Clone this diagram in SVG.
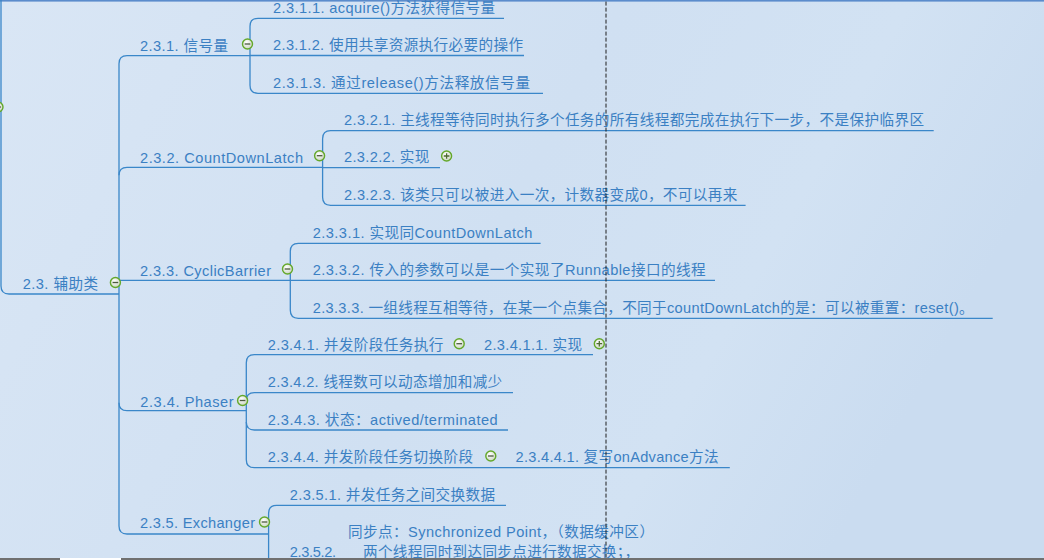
<svg xmlns="http://www.w3.org/2000/svg" width="1044" height="560" viewBox="0 0 1044 560">
<defs>
<linearGradient id="bg" x1="0" y1="0" x2="1" y2="0.3">
<stop offset="0" stop-color="#d9e6f5"/>
<stop offset="0.55" stop-color="#d0e0f2"/>
<stop offset="0.8" stop-color="#d2e2f3"/>
<stop offset="1" stop-color="#cadcf0"/>
</linearGradient>
<radialGradient id="btn" cx="0.4" cy="0.35" r="0.7">
<stop offset="0" stop-color="#ffffff"/>
<stop offset="1" stop-color="#c9d3bf"/>
</radialGradient>
<g id="minus">
<circle r="5" fill="url(#btn)" stroke="#64a82a" stroke-width="1.4"/>
<path d="M-2.8,0 H2.8" stroke="#4d5a40" stroke-width="1.3"/>
</g>
<g id="plus">
<circle r="5" fill="url(#btn)" stroke="#64a82a" stroke-width="1.4"/>
<path d="M-2.8,0 H2.8 M0,-2.8 V2.8" stroke="#4d6a30" stroke-width="1.3"/>
</g>
</defs>
<style>
.t{font-family:"Liberation Sans","Noto Sans CJK SC",sans-serif;font-size:14.6px;fill:#3b80c3;}
.c{fill:none;stroke:#3a87c9;stroke-width:1.3;}
</style>
<rect x="0" y="0" width="1044" height="560" fill="url(#bg)"/>
<rect x="0" y="0" width="1044" height="1.6" fill="#5b8ccc"/>

<g id="connectors">
<path class="c" d="M1,0 V286 Q1,294 9,294 H119"/>
<path class="c" d="M250,55.7 H127 Q119,55.7 119,63.7 V526 Q119,534 127,534 H268.6"/>
<path class="c" d="M119,175.3 Q119,167.3 127,167.3 H322.6"/>
<path class="c" d="M119,280.3 H290.3"/>
<path class="c" d="M119,402.7 Q119,410.7 127,410.7 H246.3"/>
<path class="c" d="M504,18.3 H258 Q250,18.3 250,26.3 V85.3 Q250,93.3 258,93.3 H543"/>
<path class="c" d="M250,55.5 H524"/>
<path class="c" d="M933.7,130.7 H330.6 Q322.6,130.7 322.6,138.7 V197.3 Q322.6,205.3 330.6,205.3 H745.6"/>
<path class="c" d="M322.6,167.6 H440"/>
<path class="c" d="M540.6,243.3 H298.3 Q290.3,243.3 290.3,251.3 V310.3 Q290.3,318.3 298.3,318.3 H992.7"/>
<path class="c" d="M290.3,280.3 H715"/>
<path class="c" d="M593,354.7 H254.3 Q246.3,354.7 246.3,362.7 V459.7 Q246.3,467.7 254.3,467.7 H729.8"/>
<path class="c" d="M246.3,400.7 Q246.3,392.7 254.3,392.7 H513"/>
<path class="c" d="M246.3,422 Q246.3,430 254.3,430 H508"/>
<path class="c" d="M506,505.3 H276.6 Q268.6,505.3 268.6,513.3 V560"/>
</g>

<g id="parent-stub"><use href="#minus" x="-2" y="107"/></g>

<g id="n2_3">
<text class="t" x="22.7" y="289.3" textLength="75.4" lengthAdjust="spacing">2.3. 辅助类</text>
<use href="#minus" x="115.4" y="282.5"/>
</g>

<g id="n2_3_1">
<text class="t" x="140" y="50.5" textLength="88" lengthAdjust="spacing">2.3.1. 信号量</text>
<use href="#minus" x="247.5" y="44"/>
</g>
<g id="n2_3_1_1"><text class="t" x="273" y="12.8" textLength="222" lengthAdjust="spacing">2.3.1.1. acquire()方法获得信号量</text></g>
<g id="n2_3_1_2"><text class="t" x="273" y="49.8" textLength="250" lengthAdjust="spacing">2.3.1.2. 使用共享资源执行必要的操作</text></g>
<g id="n2_3_1_3"><text class="t" x="273" y="87.8" textLength="257" lengthAdjust="spacing">2.3.1.3. 通过release()方法释放信号量</text></g>

<g id="n2_3_2">
<text class="t" x="140" y="162.5" textLength="163" lengthAdjust="spacing">2.3.2. CountDownLatch</text>
<use href="#minus" x="319.6" y="155.7"/>
</g>
<g id="n2_3_2_1"><text class="t" x="344" y="125.2" textLength="580" lengthAdjust="spacing">2.3.2.1. 主线程等待同时执行多个任务的所有线程都完成在执行下一步，不是保护临界区</text></g>
<g id="n2_3_2_2">
<text class="t" x="344" y="162.3" textLength="85.4" lengthAdjust="spacing">2.3.2.2. 实现</text>
<use href="#plus" x="446.6" y="156"/>
</g>
<g id="n2_3_2_3"><text class="t" x="344" y="199.8" textLength="393.3" lengthAdjust="spacing">2.3.2.3. 该类只可以被进入一次，计数器变成0，不可以再来</text></g>

<g id="n2_3_3">
<text class="t" x="140" y="275.5" textLength="131" lengthAdjust="spacing">2.3.3. CyclicBarrier</text>
<use href="#minus" x="287.5" y="269"/>
</g>
<g id="n2_3_3_1"><text class="t" x="312.7" y="237.5" textLength="219.6" lengthAdjust="spacing">2.3.3.1. 实现同CountDownLatch</text></g>
<g id="n2_3_3_2"><text class="t" x="312.7" y="274.8" textLength="393" lengthAdjust="spacing">2.3.3.2. 传入的参数可以是一个实现了Runnable接口的线程</text></g>
<g id="n2_3_3_3"><text class="t" x="312.7" y="312.6" textLength="661" lengthAdjust="spacing">2.3.3.3. 一组线程互相等待，在某一个点集合，不同于countDownLatch的是：可以被重置：reset()。</text></g>

<g id="n2_3_4">
<text class="t" x="140.3" y="406.5" textLength="93.3" lengthAdjust="spacing">2.3.4. Phaser</text>
<use href="#minus" x="242.6" y="400.5"/>
</g>
<g id="n2_3_4_1">
<text class="t" x="267.7" y="349.5" textLength="175.6" lengthAdjust="spacing">2.3.4.1. 并发阶段任务执行</text>
<use href="#minus" x="459.2" y="343.7"/>
</g>
<g id="n2_3_4_1_1">
<text class="t" x="484" y="349.5" textLength="98" lengthAdjust="spacing">2.3.4.1.1. 实现</text>
<use href="#plus" x="599.3" y="343.7"/>
</g>
<g id="n2_3_4_2"><text class="t" x="267.7" y="387.2" textLength="234.5" lengthAdjust="spacing">2.3.4.2. 线程数可以动态增加和减少</text></g>
<g id="n2_3_4_3"><text class="t" x="267.7" y="424.5" textLength="230" lengthAdjust="spacing">2.3.4.3. 状态：actived/terminated</text></g>
<g id="n2_3_4_4">
<text class="t" x="267.7" y="462.2" textLength="205.3" lengthAdjust="spacing">2.3.4.4. 并发阶段任务切换阶段</text>
<use href="#minus" x="490.8" y="456"/>
</g>
<g id="n2_3_4_4_1"><text class="t" x="515.5" y="462.2" textLength="203" lengthAdjust="spacing">2.3.4.4.1. 复写onAdvance方法</text></g>

<g id="n2_3_5">
<text class="t" x="140" y="528" textLength="115" lengthAdjust="spacing">2.3.5. Exchanger</text>
<use href="#minus" x="264.5" y="522"/>
</g>
<g id="n2_3_5_1"><text class="t" x="289.8" y="499.8" textLength="205.2" lengthAdjust="spacing">2.3.5.1. 并发任务之间交换数据</text></g>
<g id="n2_3_5_2">
<text class="t" x="348" y="536.7" textLength="306" lengthAdjust="spacing">同步点：Synchronized  Point，（数据缓冲区）</text>
<text class="t" x="289.8" y="556.7" textLength="46.2" lengthAdjust="spacing">2.3.5.2.</text>
<text class="t" x="363" y="556.7" textLength="276" lengthAdjust="spacing">两个线程同时到达同步点进行数据交换；，</text>
</g>

<line x1="606" y1="1.6" x2="606" y2="560" stroke="#1e1e1e" stroke-width="1" stroke-dasharray="4 2"/>
<rect x="0" y="558" width="1044" height="2" fill="#707070"/>
<rect x="60" y="558" width="61" height="2" fill="#ffffff"/>
</svg>
